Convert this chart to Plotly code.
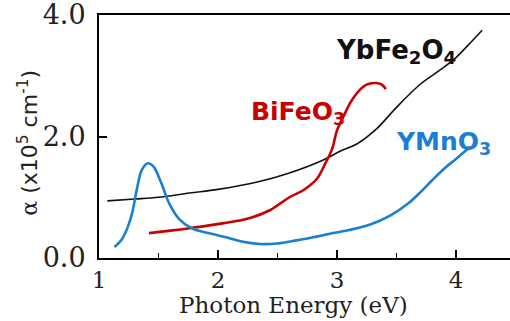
import plotly.graph_objects as go

# YbFe2O4 (black)
yb_E = [1.07, 1.3, 1.5, 1.76, 2.0, 2.33, 2.6, 2.88, 3.03, 3.17, 3.33, 3.5, 3.7, 3.87, 4.0, 4.1, 4.22]
yb_a = [0.94, 0.97, 1.00, 1.07, 1.13, 1.25, 1.40, 1.61, 1.76, 1.88, 2.12, 2.48, 2.86, 3.10, 3.30, 3.50, 3.75]

# BiFeO3 (red)
bi_E = [1.42, 1.6, 1.76, 2.04, 2.27, 2.44, 2.6, 2.72, 2.83, 2.9, 2.96, 3.0, 3.06, 3.11, 3.17, 3.22, 3.27, 3.33, 3.38, 3.41]
bi_a = [0.41, 0.45, 0.49, 0.57, 0.66, 0.79, 1.00, 1.12, 1.30, 1.55, 1.80, 2.10, 2.35, 2.55, 2.72, 2.82, 2.87, 2.88, 2.85, 2.78]

# YMnO3 (blue)
ym_E = [1.13, 1.19, 1.24, 1.28, 1.32, 1.36, 1.41, 1.46, 1.52, 1.59, 1.67, 1.78, 1.92, 2.09, 2.2, 2.35, 2.5,
        2.66, 2.8, 2.94, 3.1, 3.28, 3.45, 3.6, 3.7, 3.8, 3.9, 4.0, 4.12]
ym_a = [0.18, 0.30, 0.50, 0.75, 1.15, 1.45, 1.56, 1.50, 1.25, 0.90, 0.65, 0.49, 0.41, 0.33, 0.27, 0.23, 0.24,
        0.29, 0.34, 0.40, 0.46, 0.55, 0.70, 0.90, 1.08, 1.28, 1.47, 1.63, 1.83]

x_ticks = [1, 2, 3, 4]
y_ticks = [0, 2, 4]
y_ticklabels = ["0.0", "2.0", "4.0"]

BLACK = "#111111"
RED = "#c80000"
BLUE = "#1a7fd0"

fig = go.Figure()
fig.add_trace(go.Scatter(x=yb_E, y=yb_a, mode="lines", line=dict(color=BLACK, width=1.6, shape="spline"),
                         name="YbFe2O4"))
fig.add_trace(go.Scatter(x=bi_E, y=bi_a, mode="lines", line=dict(color=RED, width=2.6, shape="spline"),
                         name="BiFeO3"))
fig.add_trace(go.Scatter(x=ym_E, y=ym_a, mode="lines", line=dict(color=BLUE, width=2.6, shape="spline"),
                         name="YMnO3"))

serif = "DejaVu Serif"
sans = "DejaVu Sans"

fig.update_layout(
    width=510, height=321,
    margin=dict(l=99, r=0, t=15, b=63),
    paper_bgcolor="white", plot_bgcolor="white",
    showlegend=False,
    xaxis=dict(range=[1, 4.454], tickvals=x_ticks, ticktext=[str(v) for v in x_ticks],
               ticks="inside", ticklen=8, tickwidth=1.5, tickcolor="black",
               minor=dict(dtick=0.5, ticks="inside", ticklen=5, tickwidth=1.2, tickcolor="black"),
               showline=True, linecolor="black", linewidth=2, mirror=True,
               showgrid=False, zeroline=False,
               tickfont=dict(family=serif, size=23, color="#222")),
    yaxis=dict(range=[0, 4.0001], tickvals=y_ticks, ticktext=y_ticklabels,
               ticks="inside", ticklen=8, tickwidth=1.5, tickcolor="black",
               showline=True, linecolor="black", linewidth=2,
               showgrid=False, zeroline=False, ticklabelstandoff=6,
               ticklabeloverflow="allow",
               tickfont=dict(family=serif, size=27, color="#222")),
    annotations=[
        dict(text="Photon Energy (eV)", xref="paper", yref="paper", x=0.473, y=-0.255,
             xanchor="center", yanchor="bottom", showarrow=False,
             font=dict(family=serif, size=23, color="#222")),
        dict(text="<span style='font-family:DejaVu Serif'>α</span> (x10<sup>5</sup> cm<sup>-1</sup>)",
             xref="paper", yref="paper", x=-0.175, y=0.475, textangle=-90,
             xanchor="center", yanchor="middle", showarrow=False,
             font=dict(family=sans, size=22, color="#222")),
        dict(text="<b>YbFe<sub>2</sub>O<sub>4</sub></b>", xref="x", yref="y", x=2.975, y=3.40,
             xanchor="left", yanchor="middle", showarrow=False,
             font=dict(family=sans, size=26, color=BLACK)),
        dict(text="<b>BiFeO<sub>3</sub></b>", xref="x", yref="y", x=2.262, y=2.39,
             xanchor="left", yanchor="middle", showarrow=False,
             font=dict(family=sans, size=25, color=RED)),
        dict(text="<b>YMnO<sub>3</sub></b>", xref="x", yref="y", x=3.480, y=1.89,
             xanchor="left", yanchor="middle", showarrow=False,
             font=dict(family=sans, size=25, color=BLUE)),
    ],
)

fig.write_html("out.html", config={"displayModeBar": False},
               post_script="document.body.style.margin='0px';")
